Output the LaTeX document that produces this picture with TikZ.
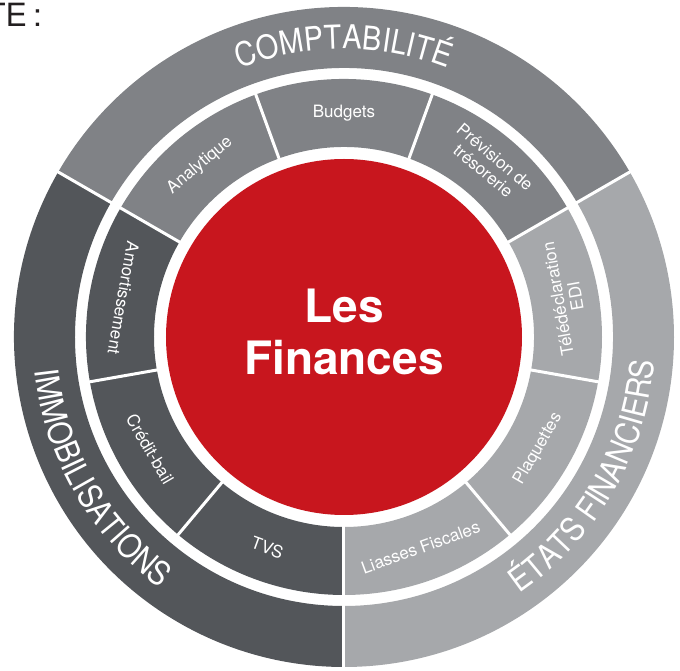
\documentclass[tikz,border=0pt]{standalone}
\usepackage{fontspec}
\setmainfont{TeX Gyre Heros}
\newfontfamily\ringfam[FakeStretch=0.88]{TeX Gyre Heros}
\usetikzlibrary{decorations.text}
\definecolor{redc}{RGB}{200,22,30}
\definecolor{gmid}{RGB}{128,130,134}
\definecolor{gdark}{RGB}{83,86,90}
\definecolor{glight}{RGB}{166,168,171}
\definecolor{txtdark}{RGB}{35,31,32}
\newcommand\ringfont{\ringfam\fontsize{33}{33}\selectfont\color{white}}
\newcommand\annsector[5]{\fill[#5] (#1:#4pt) arc[start angle=#1,end angle=#2,radius=#4pt] -- (#2:#3pt) arc[start angle=#2,end angle=#1,radius=#3pt] -- cycle;}
\begin{document}
\begin{tikzpicture}[
  sepline/.style={draw=white, line width=3pt},
  inlabel/.style={text=white, font=\fontsize{17}{18}\selectfont, align=center, inner sep=0pt},
  toptext/.style={decorate, decoration={text along path, text align=center, text={|\ringfont|#1}}},
]
\useasboundingbox (-344pt,-334pt) rectangle (336pt,337pt);
\clip (-344pt,-334pt) rectangle (336pt,337pt);
% outer ring
\annsector{30}{150}{269}{330}{gmid}
\annsector{150}{270}{269}{330}{gdark}
\annsector{270}{390}{269}{330}{glight}
% inner ring
\annsector{30}{150}{190}{258}{gmid}
\annsector{150}{270}{190}{258}{gdark}
\annsector{270}{390}{190}{258}{glight}
% separators
\foreach \a in {30,150,270} \draw[sepline] (\a:185pt) -- (\a:335pt);
\foreach \a in {70,110,190,230,310,350} \draw[sepline] (\a:185pt) -- (\a:262pt);
% centre
\node[circle, fill=redc, minimum size=356pt, inner sep=0pt, text=white, align=center,
      font=\fontsize{46}{52}\selectfont\bfseries] (centre) at (0,0) {};
\node[text=white, align=center, inner sep=0pt,
      font=\fontsize{46}{52}\selectfont\bfseries] (title) at (0,5pt) {Les\\Finances};
% outer curved labels
\path[toptext={COMPTABILITÉ}] (150:288pt) arc[start angle=150, end angle=30, radius=288pt];
\path[toptext={IMMOBILISATIONS}] (150:311pt) arc[start angle=150, end angle=270, radius=311pt];
\path[toptext={ÉTATS FINANCIERS}] (270:311pt) arc[start angle=270, end angle=390, radius=311pt];
% inner labels
\node[inlabel, rotate=40] (analytique) at (130:224pt) {Analytique};
\node[inlabel] (budgets) at (90:224pt) {Budgets};
\node[inlabel, rotate=-40] (prevision) at (50:226pt) {Prévision de\\trésorerie};
\node[inlabel, rotate=100] (teledecl) at (10:226pt) {Télédéclaration\\EDI};
\node[inlabel, rotate=60] (plaquettes) at (330:224pt) {Plaquettes};
\node[inlabel, rotate=20] (liasses) at (290:224pt) {Liasses Fiscales};
\node[inlabel, rotate=-20] (tvs) at (250:224pt) {TVS};
\node[inlabel, rotate=-60] (credit) at (210:224pt) {Crédit-bail};
\node[inlabel, rotate=-100] (amort) at (170:224pt) {Amortissement};
% top-left fragment
\node[anchor=base west, inner sep=0pt, text=txtdark, font=\fontsize{32}{32}\selectfont] (frag) at (-358pt,310pt) {TE\kern6pt:};
\end{tikzpicture}
\end{document}
